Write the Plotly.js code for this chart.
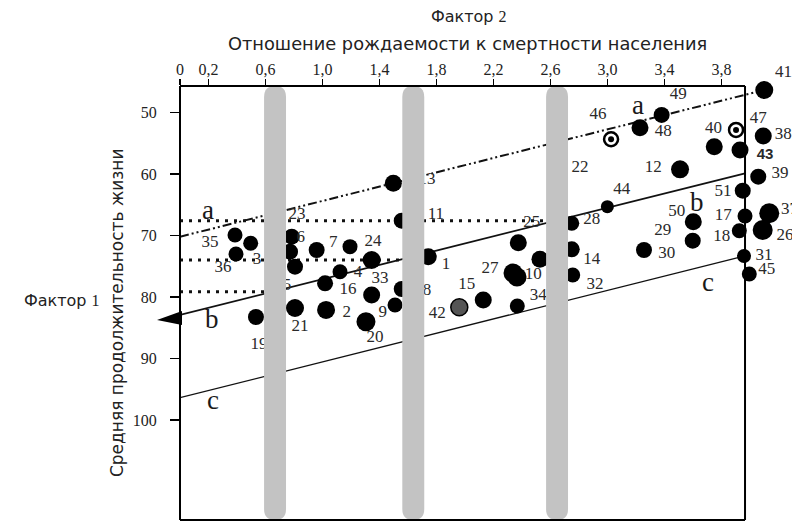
<!DOCTYPE html>
<html><head><meta charset="utf-8">
<script src="https://cdn.plot.ly/plotly-3.0.1.min.js"></script>
<style>html,body{margin:0;padding:0;background:#fff}</style>
</head><body><div id="chart" style="width:792px;height:523px"></div>
<script>
// ---------- data ----------
const xTickVals = [0, 0.2, 0.6, 1.0, 1.4, 1.8, 2.2, 2.6, 3.0, 3.4, 3.8];
const xTickText = ['0', '0,2', '0,6', '1,0', '1,4', '1,8', '2,2', '2,6', '3,0', '3,4', '3,8'];
const yTickVals = [50, 60, 70, 80, 90, 100];

// countries (points): label, factor 2 (x), factor 1 (y)
const ptLabel = ['1','2','3','4','5','6','7','8','9','10','11','12','13','14','15','16','17','18','19','20',
  '21','22','23','24','25','26','27','28','29','30','31','32','33','34','35','36','37','38','39','40',
  '41','42','43','44','45','46','47','48','49','50','51','','','',''];
const ptX = [1.742,1.025,0.496,1.123,0.667,0.784,1.193,1.556,1.509,2.365,1.556,3.509,1.497,2.749,2.128,1.018,3.965,3.925,0.533,1.305,
  0.807,2.646,0.667,1.345,2.374,4.089,2.337,2.749,3.598,3.256,3.958,2.756,1.345,2.367,0.386,0.393,4.135,4.093,4.058,3.749,
  4.100,1.960,3.930,2.999,3.995,3.025,3.902,3.228,3.380,3.602,3.949,0.959,0.772,0.807,2.526];
const ptY = [73.43,82.10,71.25,75.87,78.36,70.18,71.80,78.69,81.29,76.73,67.57,59.21,61.49,72.23,80.47,77.76,66.81,69.20,83.24,84.01,
  81.78,59.65,67.78,73.97,71.15,69.09,76.08,68.00,70.83,72.34,73.32,76.41,79.66,81.45,69.90,72.99,66.37,53.79,60.41,55.53,
  46.31,81.66,56.07,65.29,76.24,54.33,52.81,52.44,50.37,67.73,62.69,72.34,72.62,75.06,73.85];

// where each number label sits (same order as labels 1..51)
const lblX = [1.867,1.170,0.540,1.249,0.751,0.847,1.076,1.733,1.422,2.479,1.796,3.321,1.733,2.889,2.012,1.179,3.813,3.801,0.554,1.368,
  0.842,2.807,0.821,1.354,2.468,4.246,2.175,2.889,3.387,3.415,4.098,2.912,1.404,2.514,0.211,0.302,4.277,4.234,4.211,3.743,
  4.232,1.806,4.105,3.100,4.117,2.933,4.058,3.392,3.497,3.486,3.811];
const lblY = [74.78,82.59,73.97,76.03,78.20,70.39,71.20,78.96,82.59,76.41,66.64,58.88,60.95,73.85,78.03,78.85,66.76,70.18,87.80,86.66,
  84.87,59.00,66.64,71.04,67.90,70.06,75.32,67.34,69.20,72.88,73.32,78.03,77.06,79.82,71.20,75.27,65.83,53.63,59.86,52.65,
  43.38,82.75,56.88,62.58,75.48,50.37,50.91,53.09,47.12,66.11,62.90];

// trend lines a, b, c and the dotted levels x1, x2, x3
const lineAX = [0, 4.10],  lineAY = [70.18, 46.31];
const lineBX = [0, 3.965], lineBY = [82.90, 59.86];
const lineCX = [0, 3.958], lineCY = [96.37, 73.32];
const levelName = ['X1', 'X2', 'X3'];
const levelY = [67.57, 73.97, 79.12];
const levelEnd = [2.70, 1.58, 0.68];
// grey vertical bands (factor 2 values)
const bandX = [0.667, 1.637, 2.646];

// ---------- styles ----------
const dotSize = [17,18,15,15,16,16,15,16,15,19,16,18,17,16,17,16,15,15,16,19,
  18,16,16,18,17,20,19,15,16,16,14,15,17,15,15,15,20,17,16,17,18,17,17,13,15,14,14,17,16,17,16,16,16,16,17];
const SERIF = '"Liberation Serif", "DejaVu Serif", serif';
const SANS = '"DejaVu Sans", Verdana, sans-serif';
const W = 792, H = 523, M = {l: 180, r: 0, t: 86, b: 3};
const X_RANGE = [0, 4.2947];
const Y_RANGE = [116.27, 45.66];
const FRAME_RIGHT = 3.965;
const LABEL_FONT = {family: SERIF, size: 17, color: '#2a2a2a'};
const PX_PER_Y = (H - M.t - M.b) / (Y_RANGE[0] - Y_RANGE[1]);

const ringIds = ['46', '47'];
const grayIds = ['42'];

const idx = ptLabel.map((_, i) => i);
const blackIdx = idx.filter(i => !ringIds.includes(ptLabel[i]) && !grayIds.includes(ptLabel[i]));
const ringIdx = idx.filter(i => ringIds.includes(ptLabel[i]));
const grayIdx = idx.filter(i => grayIds.includes(ptLabel[i]));
const pick = (arr, ids) => ids.map(i => arr[i]);

const traces = [];
traces.push({x: lineAX, y: lineAY, mode: 'lines', line: {color: '#111', width: 2, dash: '9px,3px,2px,3px,2px,3px'}});
traces.push({x: lineBX, y: lineBY, mode: 'lines', line: {color: '#111', width: 1.8}});
traces.push({x: lineCX, y: lineCY, mode: 'lines', line: {color: '#111', width: 1.3}});
levelY.forEach((v, k) => {
  traces.push({x: [0, levelEnd[k]], y: [v, v], mode: 'lines', line: {color: '#111', width: 3, dash: '3px,6px'}});
});
traces.push({x: pick(ptX, blackIdx), y: pick(ptY, blackIdx), mode: 'markers',
  marker: {color: '#000', opacity: 1, size: pick(dotSize, blackIdx), line: {width: 0}}, cliponaxis: false});
traces.push({x: pick(ptX, grayIdx), y: pick(ptY, grayIdx), mode: 'markers',
  marker: {color: '#555', opacity: 1, size: pick(dotSize, grayIdx), line: {color: '#000', width: 1.5}}, cliponaxis: false});
traces.push({x: pick(ptX, ringIdx), y: pick(ptY, ringIdx), mode: 'markers',
  marker: {color: '#fff', opacity: 1, size: pick(dotSize, ringIdx), line: {color: '#000', width: 2.5}}, cliponaxis: false});
traces.push({x: pick(ptX, ringIdx), y: pick(ptY, ringIdx), mode: 'markers',
  marker: {color: '#000', opacity: 1, size: 6}, cliponaxis: false});

const lblIdx = lblX.map((_, i) => i);
const inRange = i => lblY[i] >= Y_RANGE[1];
const normIdx = lblIdx.filter(i => ptLabel[i] !== '43' && inRange(i));
const boldIdx = lblIdx.filter(i => ptLabel[i] === '43');
const outIdx = lblIdx.filter(i => !inRange(i));
traces.push({x: pick(lblX, normIdx), y: pick(lblY, normIdx), text: pick(ptLabel, normIdx), mode: 'text',
  textposition: 'middle center', textfont: LABEL_FONT, cliponaxis: false});
traces.push({x: pick(lblX, boldIdx), y: pick(lblY, boldIdx), text: pick(ptLabel, boldIdx), mode: 'text',
  textposition: 'middle center', textfont: {family: '"Liberation Sans", Arial, sans-serif', size: 15, color: '#2a2a2a', weight: 'bold'}, cliponaxis: false});

// grey bands (above the data, as in the original) and the frame
const shapes = [];
const hw = 0.077, rad = 1.8, yTop = Y_RANGE[1], yBot = Y_RANGE[0];
bandX.forEach(c => {
  const l = c - hw, rr = c + hw;
  shapes.push({type: 'path', xref: 'x', yref: 'y', layer: 'above',
    path: `M${l},${yTop + rad} Q${l},${yTop} ${c},${yTop} Q${rr},${yTop} ${rr},${yTop + rad} L${rr},${yBot - rad} Q${rr},${yBot} ${c},${yBot} Q${l},${yBot} ${l},${yBot - rad} Z`,
    fillcolor: '#c3c3c3', line: {width: 0}});
});
shapes.push({type: 'line', xref: 'paper', yref: 'paper', x0: 0, x1: 0, y0: 0, y1: 1, line: {color: '#000', width: 2}, layer: 'above'});
shapes.push({type: 'line', xref: 'x', yref: 'paper', x0: 0, x1: FRAME_RIGHT, y0: 1, y1: 1, line: {color: '#000', width: 2}, layer: 'above'});
shapes.push({type: 'line', xref: 'x', yref: 'paper', x0: 0, x1: FRAME_RIGHT, y0: 0, y1: 0, line: {color: '#000', width: 2}, layer: 'above'});
shapes.push({type: 'line', xref: 'x', yref: 'paper', x0: FRAME_RIGHT, x1: FRAME_RIGHT, y0: 0, y1: 1, line: {color: '#000', width: 2}, layer: 'above'});
// arrow head at the left end of line b
shapes.push({type: 'path', xref: 'paper', yref: 'y', xsizemode: 'pixel', ysizemode: 'pixel',
  xanchor: 0, yanchor: lineBY[0], path: 'M2,4 L-23,-5 L2,-10 Z', fillcolor: '#000', line: {width: 0}, layer: 'above'});

const ann = [];
// number labels that lie above the frame: pinned to the frame edge and lifted by the pixel gap
outIdx.forEach(i => ann.push({text: ptLabel[i], x: lblX[i], y: Y_RANGE[1], xref: 'x', yref: 'y', showarrow: false,
  yshift: (Y_RANGE[1] - lblY[i]) * PX_PER_Y, xanchor: 'center', yanchor: 'middle', font: LABEL_FONT}));
const letter = (t, x, y) => ann.push({text: t, x: x, y: y, xref: 'x', yref: 'y', showarrow: false,
  xanchor: 'center', yanchor: 'middle', font: {family: SERIF, size: 27, color: '#1a1a1a'}});
letter('a', 0.196, 65.9); letter('b', 0.222, 83.6); letter('c', 0.234, 96.8);
letter('a', 3.216, 48.8); letter('b', 3.626, 64.6); letter('c', 3.707, 77.5);
levelName.forEach((t, k) => ann.push({text: t, x: -0.08, y: levelY[k] - 0.3, xref: 'x', yref: 'y', showarrow: false,
  xanchor: 'center', yanchor: 'middle', font: {family: SERIF, size: 13, color: '#333'}}));
const txt = (t, x, y, size, extra) => ann.push(Object.assign({text: t, xref: 'paper', yref: 'paper', x: x, y: y,
  xanchor: 'center', yanchor: 'middle', showarrow: false, font: {family: SANS, size: size, color: '#222'}}, extra || {}));
txt('Фактор <span style="font-family:Liberation Serif;font-size:16px">2</span>', 0.472, 1.159, 16);
txt('Отношение рождаемости к смертности населения', 0.469, 1.097, 17.8);
txt('Фактор <span style="font-family:Liberation Serif;font-size:16px">1</span>', -0.193, 0.505, 16);
txt('Средняя продолжительность жизни', -0.103, 0.479, 17, {textangle: -90});

const layout = {
  width: W, height: H,
  margin: M,
  paper_bgcolor: '#fff', plot_bgcolor: '#fff',
  showlegend: false, hovermode: false,
  xaxis: {side: 'top', range: X_RANGE, tickvals: xTickVals, ticktext: xTickText, ticks: 'outside', ticklen: 6,
    tickwidth: 1.5, tickcolor: '#000', showgrid: false, zeroline: false, showline: false, ticklabelstandoff: -2,
    tickfont: {family: SERIF, size: 16, color: '#222'}},
  yaxis: {range: Y_RANGE, tickvals: yTickVals, ticks: 'outside', ticklen: 9, tickwidth: 1.5, tickcolor: '#000',
    showgrid: false, zeroline: false, showline: false, ticklabelstandoff: 10,
    tickfont: {family: SERIF, size: 16, color: '#222'}},
  shapes: shapes,
  annotations: ann
};
Plotly.newPlot('chart', traces, layout, {staticPlot: true, displayModeBar: false});
</script></body></html>
